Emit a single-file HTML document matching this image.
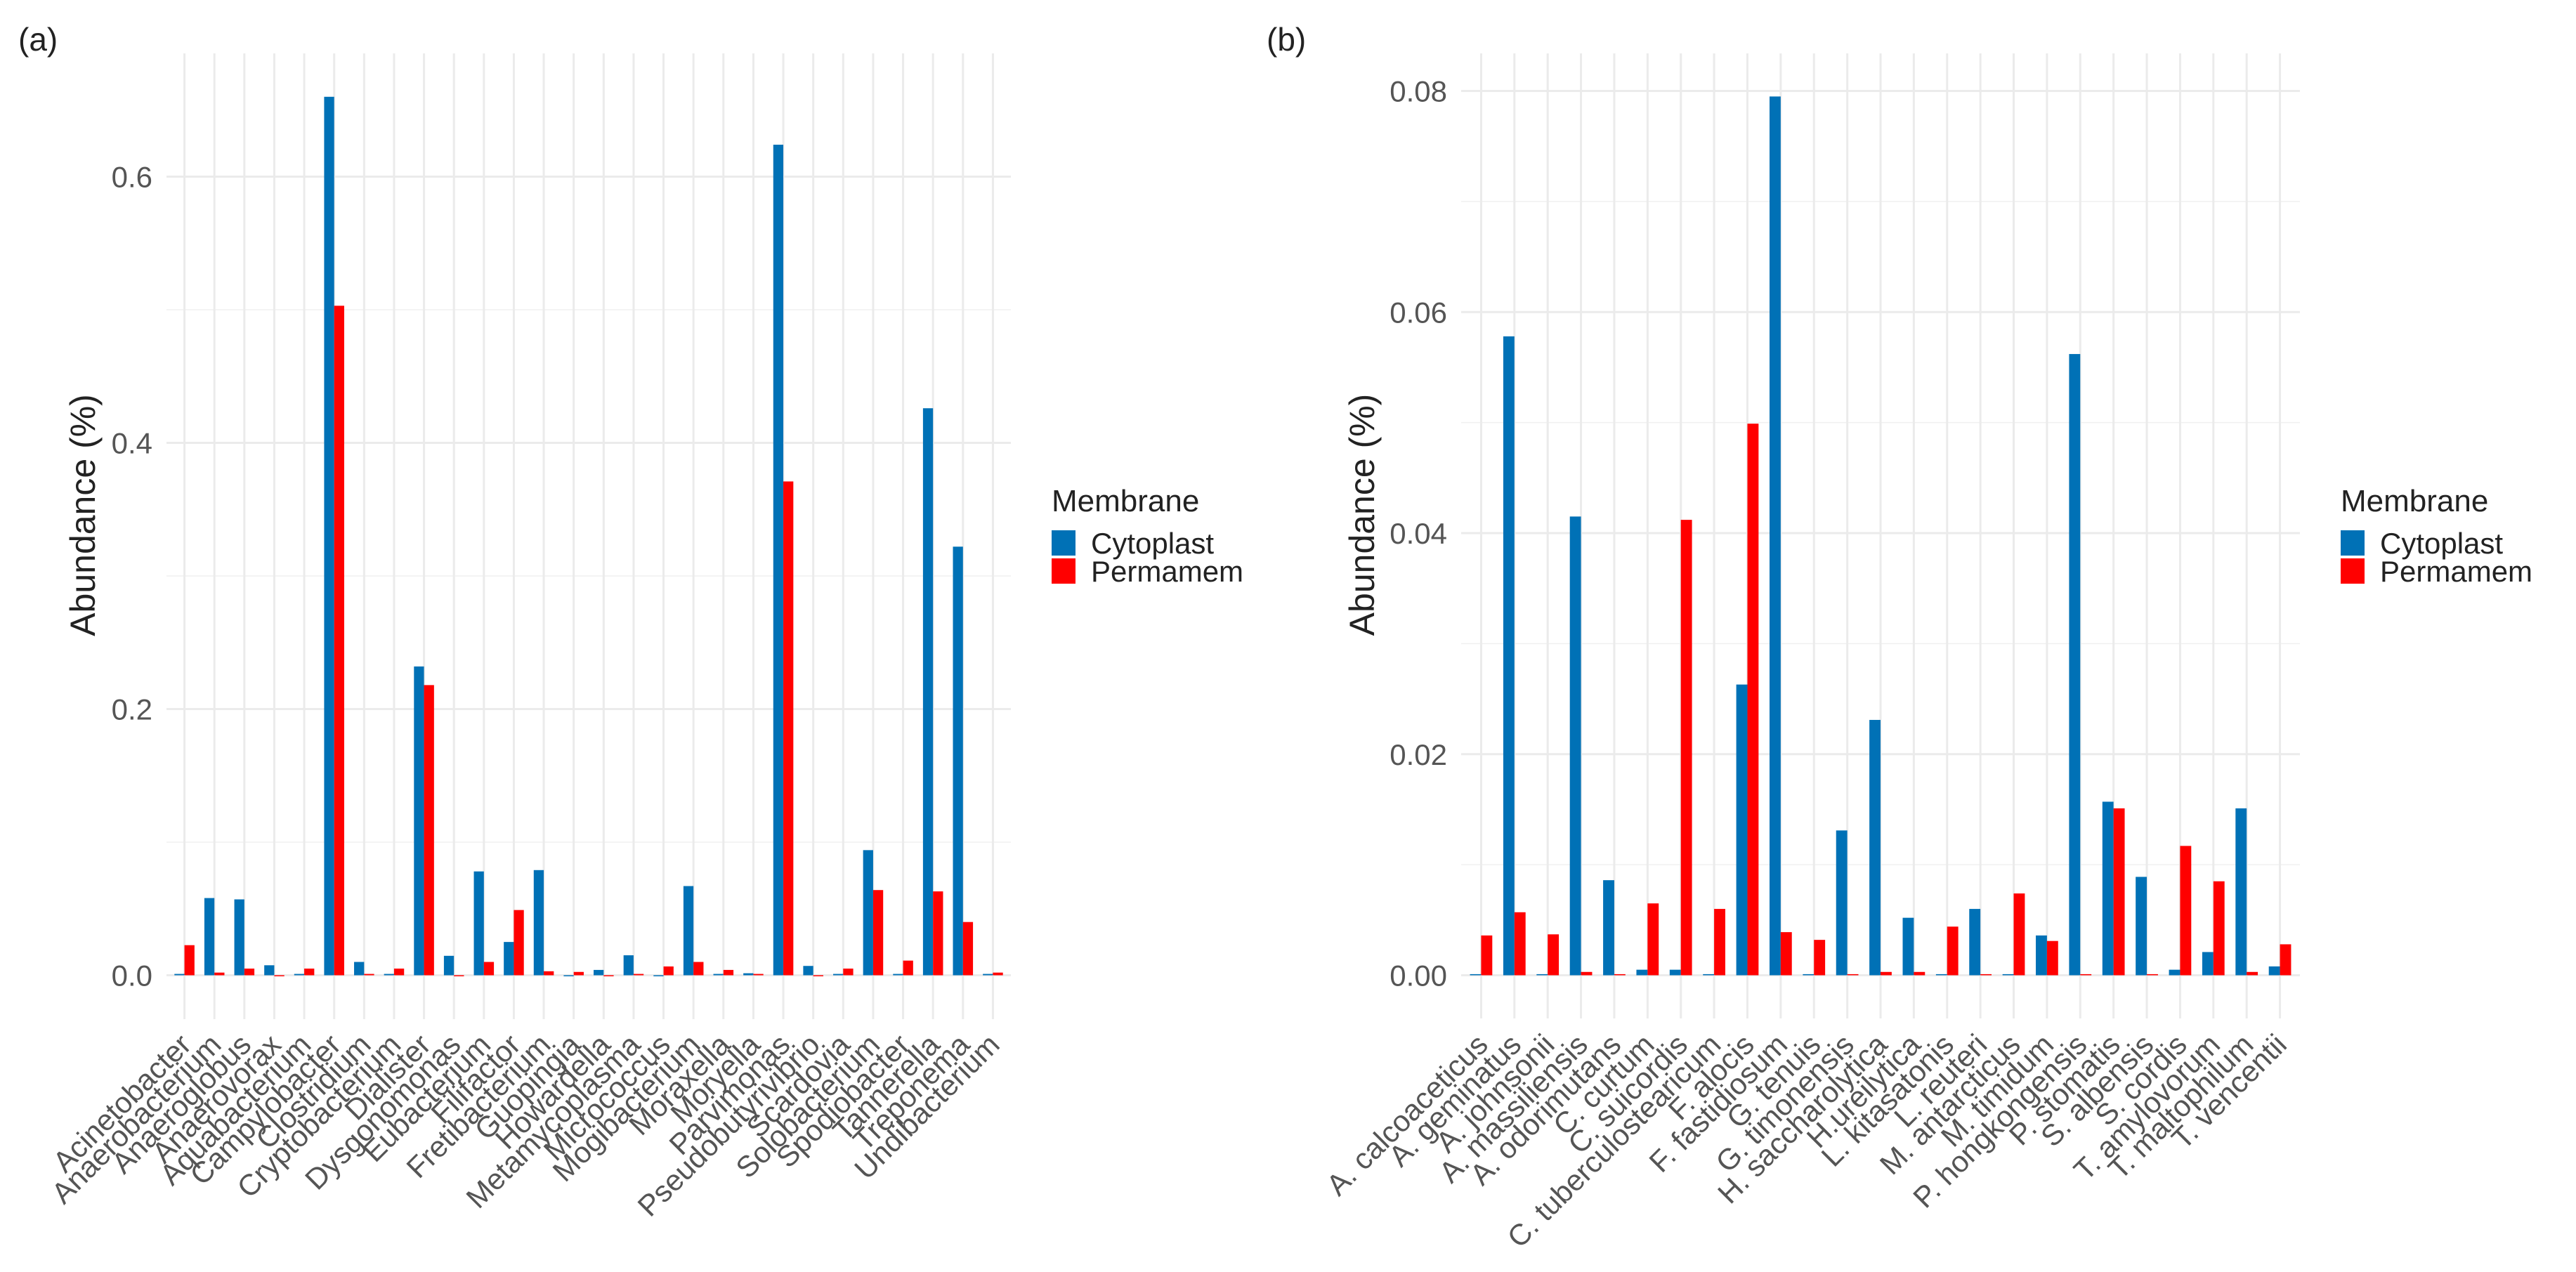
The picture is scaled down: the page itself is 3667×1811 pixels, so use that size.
<!DOCTYPE html>
<html><head><meta charset="utf-8"><style>
html,body{margin:0;padding:0;background:#fff;}
svg{display:block;font-family:"Liberation Sans","DejaVu Sans",sans-serif;}
</style></head><body>
<svg id="chart" width="3667" height="1811" viewBox="0 0 3667 1811" xmlns="http://www.w3.org/2000/svg">
<rect width="3667" height="1811" fill="#fff"/>
<g id="pa"></g>
<g id="pb"></g>
</svg>
<script>
const catsA = ["Acinetobacter","Anaerobacterium","Anaeroglobus","Anaerovorax","Aquabacterium","Campylobacter","Clostridium","Cryptobacterium","Dialister","Dysgonomonas","Eubacterium","Filifactor","Fretibacterium","Guopingia","Howardella","Metamycoplasma","Micrococcus","Mogibacterium","Moraxella","Moryella","Parvimonas","Pseudobutyrivibrio","Scardovia","Solobacterium","Spodiobacter","Tannerella","Treponema","Undibacterium"];
const cytoA = [0.001,0.058,0.057,0.0075,0.001,0.660,0.010,0.001,0.232,0.0146,0.078,0.025,0.079,0.0,0.004,0.015,0.0,0.067,0.001,0.0015,0.624,0.007,0.001,0.094,0.001,0.426,0.322,0.001];
const permA = [0.0226,0.002,0.005,0.0,0.005,0.503,0.001,0.005,0.218,0.0,0.010,0.049,0.003,0.0025,0.0,0.001,0.0066,0.010,0.004,0.001,0.371,0.0,0.005,0.064,0.011,0.063,0.040,0.002];
const ticksA = [0,0.2,0.4,0.6];
const tickLabelsA = ["0.0","0.2","0.4","0.6"];
const minorA = [0.1,0.3,0.5];

const catsB = ["A. calcoaceticus","A. geminatus","A. johnsonii","A. massiliensis","A. odorimutans","C. curtum","C. suicordis","C. tuberculostearicum","F. alocis","F. fastidiosum","G. tenuis","G. timonensis","H. saccharolytica","H.ureilytica","L. kitasatonis","L. reuteri","M. antarcticus","M. timidum","P. hongkongensis","P. stomatis","S. albensis","S. cordis","T. amylovorum","T. maltophilum","T. vencentii"];
const cytoB = [0.0001,0.0578,0.0001,0.0415,0.0086,0.0005,0.0005,0.0001,0.0263,0.0795,0.0001,0.0131,0.0231,0.0052,0.0001,0.0060,0.0001,0.0036,0.0562,0.0157,0.0089,0.0005,0.0021,0.0151,0.0008];
const permB = [0.0036,0.0057,0.0037,0.0003,0.0001,0.0065,0.0412,0.0060,0.0499,0.0039,0.0032,0.0001,0.0003,0.0003,0.0044,0.0001,0.0074,0.0031,0.0001,0.0151,0.0001,0.0117,0.0085,0.0003,0.0028];
const ticksB = [0,0.02,0.04,0.06,0.08];
const tickLabelsB = ["0.00","0.02","0.04","0.06","0.08"];
const minorB = [0.01,0.03,0.05,0.07];

const NS="http://www.w3.org/2000/svg";
function mk(parent,tag,attrs,text){const e=document.createElementNS(NS,tag);for(const k in attrs)e.setAttribute(k,attrs[k]);if(text!==undefined)e.textContent=text;parent.appendChild(e);return e;}

function drawPanel(g,cfg){
  const {cats,cyto,perm,ticks,tickLabels,minor,left,right,top,bottom,base,vmaxY,vmax,tag,tagX,ylabX,legX}=cfg;
  const n=cats.length;
  const step=(right-left)/(n-1+1.2);
  const x=i=>left+step*0.6+i*step;
  const y=v=>base-(v/vmax)*(base-vmaxY);
  // minor grid
  minor.forEach(v=>{const l=mk(g,'line',{x1:left,x2:right,y1:y(v),y2:y(v),stroke:'#f0f0f0','stroke-width':1.5});
    
    });
  ticks.forEach((v,i)=>{const l=mk(g,'line',{x1:left,x2:right,y1:y(v),y2:y(v),stroke:'#ebebeb','stroke-width':3});
    
    
    const t=mk(g,'text',{x:left-20,y:y(v)+15,'text-anchor':'end','font-size':42,fill:'#555'},tickLabels[i]);
    
    });
  cats.forEach((c,i)=>{const l=mk(g,'line',{x1:x(i),x2:x(i),y1:top,y2:bottom,stroke:'#ebebeb','stroke-width':3});
    
    });
  const bw=step*0.335;
  cats.forEach((c,i)=>{
    const yb=y(cyto[i]);
    const b=mk(g,'rect',{x:x(i)-bw,y:yb,width:bw,height:Math.max(base-yb,1.5),fill:'#0071b6'});
    
    
    const yr=y(perm[i]);
    const r=mk(g,'rect',{x:x(i),y:yr,width:bw,height:Math.max(base-yr,1.5),fill:'#ff0000'});
    
    
    const lx=x(i)+12, ly=1490;
    const t=mk(g,'text',{x:lx,y:ly,'text-anchor':'end','font-size':42,fill:'#555',transform:`rotate(-45 ${lx} ${ly})`},c);
    
    
  });
  const yt=mk(g,'text',{x:ylabX,y:(top+bottom)/2-30,'text-anchor':'middle','font-size':50,fill:'#222',transform:`rotate(-90 ${ylabX} ${(top+bottom)/2-30})`},'Abundance (%)');
  
  
  const tg=mk(g,'text',{x:tagX,y:72,'font-size':46,fill:'#222'},tag);
  
  
  const lg=mk(g,'g',{});
  
  
  const lt=mk(lg,'text',{x:legX,y:728,'font-size':44,fill:'#222'},'Membrane');
  
  
  const k1=mk(lg,'rect',{x:legX,y:755,width:34,height:36,fill:'#0071b6'});
  
  
  const k2=mk(lg,'rect',{x:legX,y:795,width:34,height:36,fill:'#ff0000'});
  
  
  const l1=mk(lg,'text',{x:legX+56,y:788,'font-size':42,fill:'#222'},'Cytoplast');
  
  
  const l2=mk(lg,'text',{x:legX+56,y:828,'font-size':42,fill:'#222'},'Permamem');
  
  
}
drawPanel(document.getElementById('pa'),{cats:catsA,cyto:cytoA,perm:permA,ticks:ticksA,tickLabels:tickLabelsA,minor:minorA,
  left:237,right:1439,top:76,bottom:1451,base:1388.5,vmaxY:251.5,vmax:0.6,tag:'(a)',tagX:26,ylabX:135,legX:1497});
drawPanel(document.getElementById('pb'),{cats:catsB,cyto:cytoB,perm:permB,ticks:ticksB,tickLabels:tickLabelsB,minor:minorB,
  left:2080,right:3274,top:76,bottom:1450,base:1388.5,vmaxY:129.5,vmax:0.08,tag:'(b)',tagX:1803,ylabX:1956,legX:3332});
</script>
</body></html>
